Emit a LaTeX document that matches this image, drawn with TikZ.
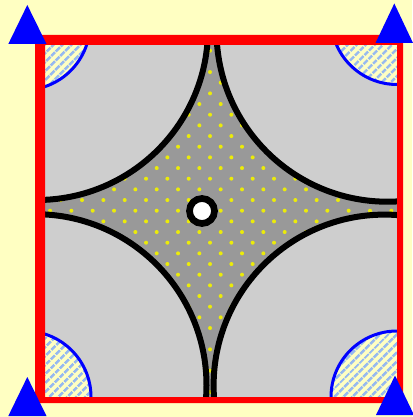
\documentclass[tikz,border=0pt]{standalone}
\usetikzlibrary{patterns.meta}
\definecolor{bgyellow}{RGB}{255,255,194}
\definecolor{lgrey}{RGB}{206,206,206}
\definecolor{dgrey}{RGB}{153,153,153}
\definecolor{dotyellow}{RGB}{235,235,10}
\definecolor{hatchblue}{RGB}{150,185,240}
\tikzset{
  bigarc/.style={draw=black,line width=6pt},
  cornerhatch/.style={pattern={Lines[angle=45,distance=6.5pt,line width=3pt]},pattern color=hatchblue},
  cornerline/.style={draw=blue,line width=3pt},
  marker/.style={fill=blue},
  frame/.style={fill=red,even odd rule}
}
\begin{document}
\begin{tikzpicture}[x=1pt,y=-1pt]
\fill[bgyellow] (0,0) rectangle (412,417);
\useasboundingbox (0,0) rectangle (412,417);
\begin{scope}
  \clip (45,45) rectangle (397,397);
  \fill[dgrey] (45,45) rectangle (397,397);
  \foreach \i in {-6,...,12} \foreach \j in {-8,...,9} {
    \fill[dotyellow] (156.7+21.33*\i,210.7+21.33*\j) circle (2pt);
    \fill[dotyellow] (167.37+21.33*\i,221.37+21.33*\j) circle (2pt);
  }
  \foreach \c in {(37,29),(387.5,30.7),(35.5,385.2),(384.6,385.6)}
    \fill[lgrey] \c circle (171pt);
  \foreach \c in {(37,29),(387.5,30.7),(35.5,385.2),(384.6,385.6)}
    \path[bigarc] \c circle (171pt);
  \foreach \c in {(24,24),(397,18.5),(25,397),(397,397)} {
    \fill[bgyellow] \c circle (66pt);
    \fill[cornerhatch] \c circle (66pt);
    \path[cornerline] \c circle (66pt);
  }
  \draw[line width=6.7pt,fill=white] (202,211) circle (12.5pt);
\end{scope}
\fill[frame] (35,35) rectangle (403,403) (45,45) rectangle (397,397);
\fill[marker] (8.3,44) -- (27.3,5) -- (46.5,44) -- cycle;
\fill[marker] (375.5,43) -- (394.3,3.5) -- (413,43) -- cycle;
\fill[marker] (8.3,416) -- (27.3,377) -- (46.5,416) -- cycle;
\fill[marker] (376,415) -- (395,375.5) -- (414,415) -- cycle;
\end{tikzpicture}
\end{document}
